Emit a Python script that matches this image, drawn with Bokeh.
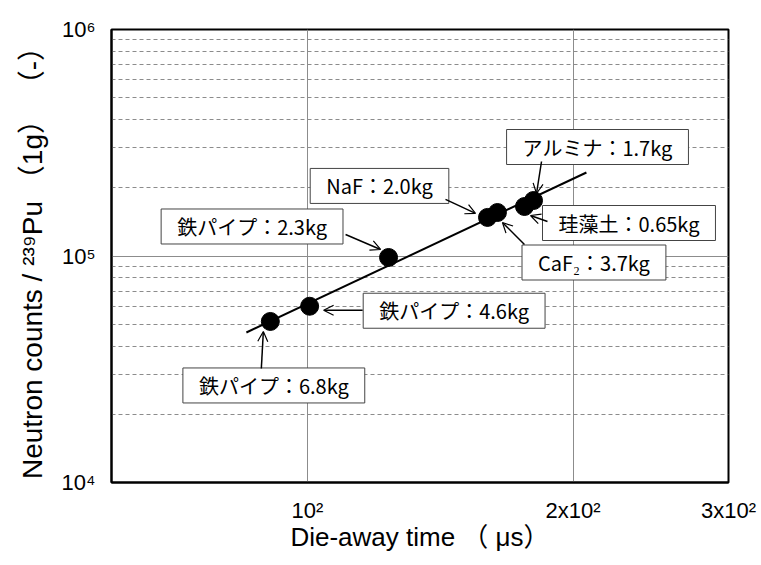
import math
from bokeh.plotting import figure
from bokeh.models import FixedTicker, Label, Arrow, OpenHead, Range1d, ColumnDataSource
from bokeh.embed import file_html
from bokeh.resources import INLINE

# ---- data ----
materials = ["鉄パイプ：6.8kg", "鉄パイプ：4.6kg", "鉄パイプ：2.3kg", "NaF：2.0kg",
             "CaF₂：3.7kg", "珪藻土：0.65kg", "アルミナ：1.7kg"]
die_away_us = [90.8, 100.6, 123.6, 160.0, 164.2, 176.2, 180.4]
neutron_counts = [51400, 60000, 98500, 148000, 155600, 165400, 175800]
fit_x = [85.3, 207.1]
fit_y = [45950, 233700]
x_ticks = [100, 200, 300]
x_tick_labels = ["10²", "2x10²", "3x10²"]
y_ticks = [10000, 100000, 1000000]
y_tick_labels = ["10⁴", "10⁵", "10⁶"]
y_minor = [2e4, 3e4, 4e4, 5e4, 6e4, 7e4, 8e4, 9e4, 2e5, 3e5, 4e5, 5e5, 6e5, 7e5, 8e5, 9e5]

# ---- layout (screen offsets of callout boxes and arrows, px; +dy = down) ----
box_off = [(3.5, 64), (144.5, 4.5), (-136.5, -31), (-108, -31.5), (96.5, 50), (104.5, 16.5), (64, -53.5)]
arr_start = [(-9, 47), (53, 4), (-43, -23), (-42, -18), (27, 32), (23, 15), (8, -39)]
arr_end = [(-7, 10), (14, 4), (-8, -8), (-12, -4), (5, 10), (6, 9), (3, -7)]

W, H = 761, 565
BL, BR, BT, BB = 111, 33, 29, 83
XMIN, XMAX = 60, 300
YMIN, YMAX = 1e4, 1e6
FW, FH = W - BL - BR, H - BT - BB
pxdx = FW / math.log10(XMAX / XMIN)
pxdy = FH / math.log10(YMAX / YMIN)


def shift(x, y, dx, dy):
    return x * 10 ** (dx / pxdx), y * 10 ** (-dy / pxdy)


p = figure(width=W, height=H, x_axis_type="log", y_axis_type="log",
           x_range=Range1d(XMIN, XMAX), y_range=Range1d(YMIN, YMAX),
           output_backend="svg", toolbar_location=None,
           min_border_left=BL, min_border_right=BR, min_border_top=BT, min_border_bottom=BB)
p.background_fill_color = "white"
p.border_fill_color = "white"
p.outline_line_color = "black"
p.outline_line_width = 2

GRID = "#8c8c8c"
p.xgrid.ticker = FixedTicker(ticks=[100, 200])
p.xgrid.grid_line_color = GRID
p.xgrid.grid_line_width = 1
p.ygrid.ticker = FixedTicker(ticks=y_ticks, minor_ticks=y_minor)
p.ygrid.grid_line_color = GRID
p.ygrid.grid_line_width = 1
p.ygrid.minor_grid_line_color = GRID
p.ygrid.minor_grid_line_dash = "4 3"
p.ygrid.minor_grid_line_width = 1

AX_FONT = "Liberation Sans, Noto Sans CJK JP"
p.xaxis.ticker = FixedTicker(ticks=x_ticks)
p.xaxis.major_label_overrides = dict(zip(x_ticks, x_tick_labels))
p.yaxis.ticker = FixedTicker(ticks=y_ticks)
p.yaxis.major_label_overrides = dict(zip(y_ticks, y_tick_labels))
for ax in (p.xaxis[0], p.yaxis[0]):
    ax.axis_line_color = "black"
    ax.axis_line_width = 2
    ax.major_tick_line_color = None
    ax.minor_tick_line_color = None
    ax.major_label_text_font = AX_FONT
    ax.major_label_text_font_size = "22px"
    ax.major_label_text_color = "black"
    ax.axis_label_text_font = AX_FONT
    ax.axis_label_text_font_style = "normal"
    ax.axis_label_text_color = "black"
p.xaxis.axis_label_text_font_size = "26px"
p.yaxis.axis_label_text_font_size = "28px"
p.xaxis.major_label_standoff = 9
p.yaxis.major_label_standoff = 10
p.xaxis.axis_label = "Die-away time （ μs）"
p.yaxis.axis_label = "Neutron counts / ²³⁹Pu （1g） （-）"
p.xaxis.axis_label_standoff = -4
p.yaxis.axis_label_standoff = 11

# fit line and points
p.line(fit_x, fit_y, line_color="black", line_width=2)
src = ColumnDataSource(dict(x=die_away_us, y=neutron_counts))
p.scatter("x", "y", source=src, size=18, fill_color="black", line_color="black")

# callouts
for i, name in enumerate(materials):
    x0, y0 = die_away_us[i], neutron_counts[i]
    bx, by = shift(x0, y0, *box_off[i])
    p.add_layout(Label(x=bx, y=by, text=name, text_font="Noto Sans CJK JP",
                       text_font_size="20px", text_color="black",
                       text_align="center", text_baseline="middle", anchor="center",
                       background_fill_color="white", border_line_color="#444444",
                       border_line_width=1,
                       padding=dict(left=16, right=16, top=3, bottom=3)))
    sx, sy = shift(x0, y0, *arr_start[i])
    ex, ey = shift(x0, y0, *arr_end[i])
    p.add_layout(Arrow(x_start=sx, y_start=sy, x_end=ex, y_end=ey,
                       line_color="black", line_width=1.5,
                       end=OpenHead(size=10, line_width=1.2, line_color="black")))

open("out.html", "w").write(file_html(p, INLINE))
